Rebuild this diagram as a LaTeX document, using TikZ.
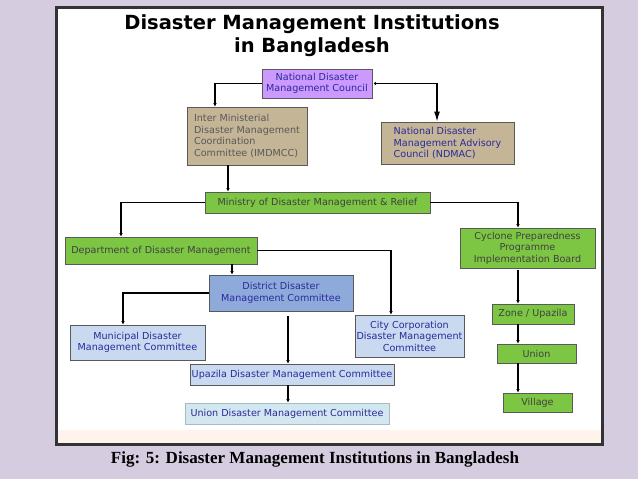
\documentclass[tikz,border=0pt]{standalone}
\usepackage{fontspec}
\setmainfont{DejaVu Sans}
\newfontfamily\capfont{Liberation Serif}
\usetikzlibrary{arrows.meta,calc}
\definecolor{bgl}{HTML}{D6CCDF}
\definecolor{purp}{HTML}{CC99FF}
\definecolor{tan}{HTML}{C4B596}
\definecolor{grn}{HTML}{7CC644}
\definecolor{dblue}{HTML}{8EAADB}
\definecolor{lblue}{HTML}{C9D9F0}
\definecolor{cyanl}{HTML}{D3E7F1}
\definecolor{txtb}{HTML}{2A2A9A}
\tikzset{
  bx/.style={draw=gray!70!black, line width=0.8pt, inner sep=1.5pt, font=\fontsize{9.6}{11.5}\selectfont, align=center, text=txtb},
  con/.style={line width=1.3pt, -{Latex[length=3.5pt,width=3.5pt]}},
}
\begin{document}
\begin{tikzpicture}[x=1pt,y=-1pt]
\useasboundingbox (0,0) rectangle (638,479);
\fill[bgl] (0,0) rectangle (638,479);
\fill[black!80] (55,6) rectangle (604,446);
\fill[white] (58,9) rectangle (601,443);
\fill[black!5!orange!8] (58,430) rectangle (601,443);
\node[font=\bfseries\fontsize{19.5}{23}\selectfont, align=center] (title) at (312,36) {Disaster Management Institutions\\in Bangladesh};
\node[bx, fill=purp, minimum width=110pt, minimum height=29pt] (ndmc) at (317,83.5) {National Disaster\\Management Council};
\node[bx, fill=tan, minimum width=120pt, minimum height=58pt, align=left, text=black!65] (imd) at (247,136) {Inter Ministerial\\Disaster Management\\Coordination\\Committee (IMDMCC)};
\node[bx, fill=tan, minimum width=133pt, minimum height=42pt, align=left] (ndmac) at (447.5,143) {National Disaster\\Management Advisory\\Council (NDMAC)};
\node[bx, fill=grn, minimum width=225pt, minimum height=21pt, text=black!75] (min) at (317.5,202.5) {Ministry of Disaster Management \& Relief};
\node[bx, fill=grn, minimum width=192pt, minimum height=27pt, text=black!75] (ddm) at (161,250.5) {Department of Disaster Management};
\node[bx, fill=grn, minimum width=135pt, minimum height=40pt, text=black!75] (cpp) at (527.5,248) {Cyclone Preparedness\\Programme\\Implementation Board};
\node[bx, fill=dblue, minimum width=144pt, minimum height=36pt] (ddmc) at (281,293) {District Disaster\\Management Committee};
\node[bx, fill=lblue, minimum width=135pt, minimum height=35pt] (mun) at (137.5,342.5) {Municipal Disaster\\Management Committee};
\node[bx, fill=lblue, minimum width=99pt, minimum height=42pt] (city) at (409.5,336) {City Corporation\\Disaster Management\\Committee};
\node[bx, fill=lblue, minimum width=204pt, minimum height=21pt] (upa) at (292,374.5) {Upazila Disaster Management Committee};
\node[bx, fill=cyanl, draw=cyanl!80!black, minimum width=204pt, minimum height=21pt] (uni) at (287,413.5) {Union Disaster Management Committee};
\node[bx, fill=grn, minimum width=82pt, minimum height=20pt, text=black!75] (zone) at (533,314) {Zone / Upazila};
\node[bx, fill=grn, minimum width=79pt, minimum height=19pt, text=black!75] (union) at (536.5,353.5) {Union};
\node[bx, fill=grn, minimum width=69pt, minimum height=19pt, text=black!75] (vill) at (537.5,402.5) {Village};
\node[font=\capfont\bfseries\fontsize{17}{20}\selectfont] (cap) at (315,459) {Fig: 5: Disaster Management Institutions in Bangladesh};
% connectors
\coordinate (ndr) at ($(ndmc.east)+(3,0)$);
\coordinate (ddmcb) at (288,316);
\coordinate (cppb) at (518,270);
\draw[con] (ndmc.west) -| (imd.north -| 215,0);
\fill (ndr) circle (1.5pt);
\draw[line width=1.3pt, -{Latex[length=10pt,width=6pt]}] (ndr) -| (ndmac.north -| 437,0);
\draw[con] (imd.south -| 228,0) -- (min.north -| 228,0);
\draw[con] (min.west) -| (ddm.north -| 121,0);
\draw[con] (min.east) -| (cpp.north -| 518,0);
\draw[con] (ddm.east) -| (city.north -| 391,0);
\draw[con] (ddm.south -| 232,0) -- (ddmc.north -| 232,0);
\draw[con] (ddmc.west) -| (mun.north -| 123,0);
\draw[con] (ddmcb) -- (upa.north -| 288,0);
\draw[con] (upa.south -| 288,0) -- (uni.north -| 288,0);
\draw[con] (cppb) -- (zone.north -| 518,0);
\draw[con] (zone.south -| 518,0) -- (union.north -| 518,0);
\draw[con] (union.south -| 518,0) -- (vill.north -| 518,0);
\end{tikzpicture}
\end{document}
